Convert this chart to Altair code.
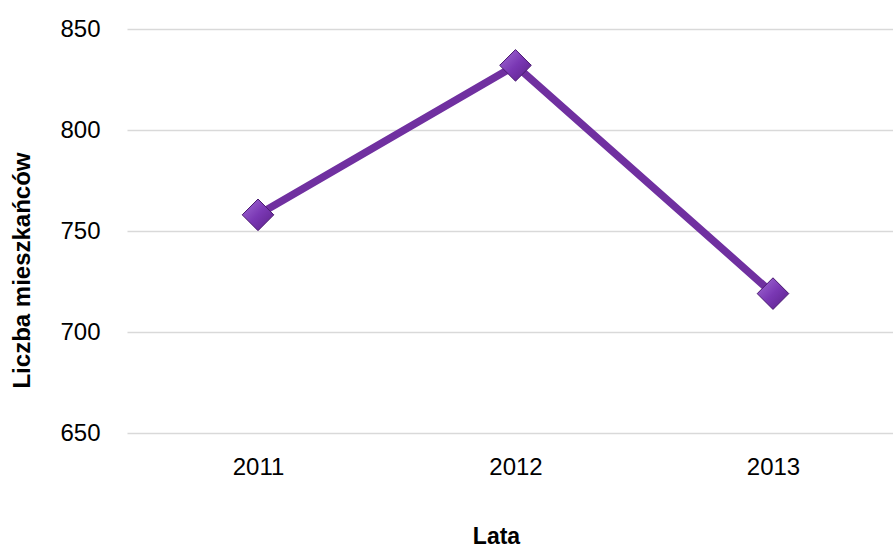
import altair as alt
import pandas as pd

years = ["2011", "2012", "2013"]
values = [758, 832, 719]

df = pd.DataFrame({"Lata": years, "Liczba": values})

FONT = "Liberation Sans"
PURPLE = "#7030A0"

x = alt.X("Lata:N", sort=years,
          scale=alt.Scale(type="point", padding=0.4874, align=0.5219),
          axis=alt.Axis(title="Lata", labelAngle=0, domain=False, ticks=False, grid=False,
                        labelFontSize=24, labelFont=FONT, labelColor="#000000",
                        labelPadding=22, titleFont=FONT, titleFontWeight="bold",
                        titleFontSize=23, titleColor="#000000",
                        titleX=369, titleY=110, titleBaseline="alphabetic",
                        titleAlign="center"))
y = alt.Y("Liczba:Q",
          scale=alt.Scale(domain=[650, 850], nice=False, zero=False),
          axis=alt.Axis(title="Liczba mieszkańców", values=[650, 700, 750, 800, 850],
                        domain=False, ticks=False, grid=True, gridColor="#d9d9d9",
                        gridWidth=1.5, labelFontSize=24, labelFont=FONT,
                        labelColor="#000000", labelPadding=27,
                        titleFont=FONT, titleFontWeight="bold", titleFontSize=24,
                        titleColor="#000000", titleAngle=-90, titleAlign="center",
                        titleBaseline="middle", titleX=-105, titleY=241))

line = alt.Chart(df).mark_line(color=PURPLE, strokeWidth=7.5).encode(x=x, y=y)
grad = alt.LinearGradient(
    gradient="linear", x1=0, y1=0, x2=1, y2=1,
    stops=[alt.GradientStop(color="#a46fd6", offset=0),
           alt.GradientStop(color="#7a38b4", offset=0.5),
           alt.GradientStop(color="#5a2088", offset=1)])
pts = alt.Chart(df).mark_point(shape="diamond", filled=True, size=1000, fill=grad,
                               stroke="#4a1a70", strokeWidth=1, opacity=1).encode(x=x, y=y)

chart = (line + pts).properties(
    width=766, height=404,
    background="white",
    autosize=alt.AutoSizeParams(type="none"),
    padding={"left": 127, "top": 29, "right": 0, "bottom": 114},
).configure_view(stroke="transparent", strokeWidth=0)

chart.save("out.html", embed_options={"renderer": "svg", "actions": False})
